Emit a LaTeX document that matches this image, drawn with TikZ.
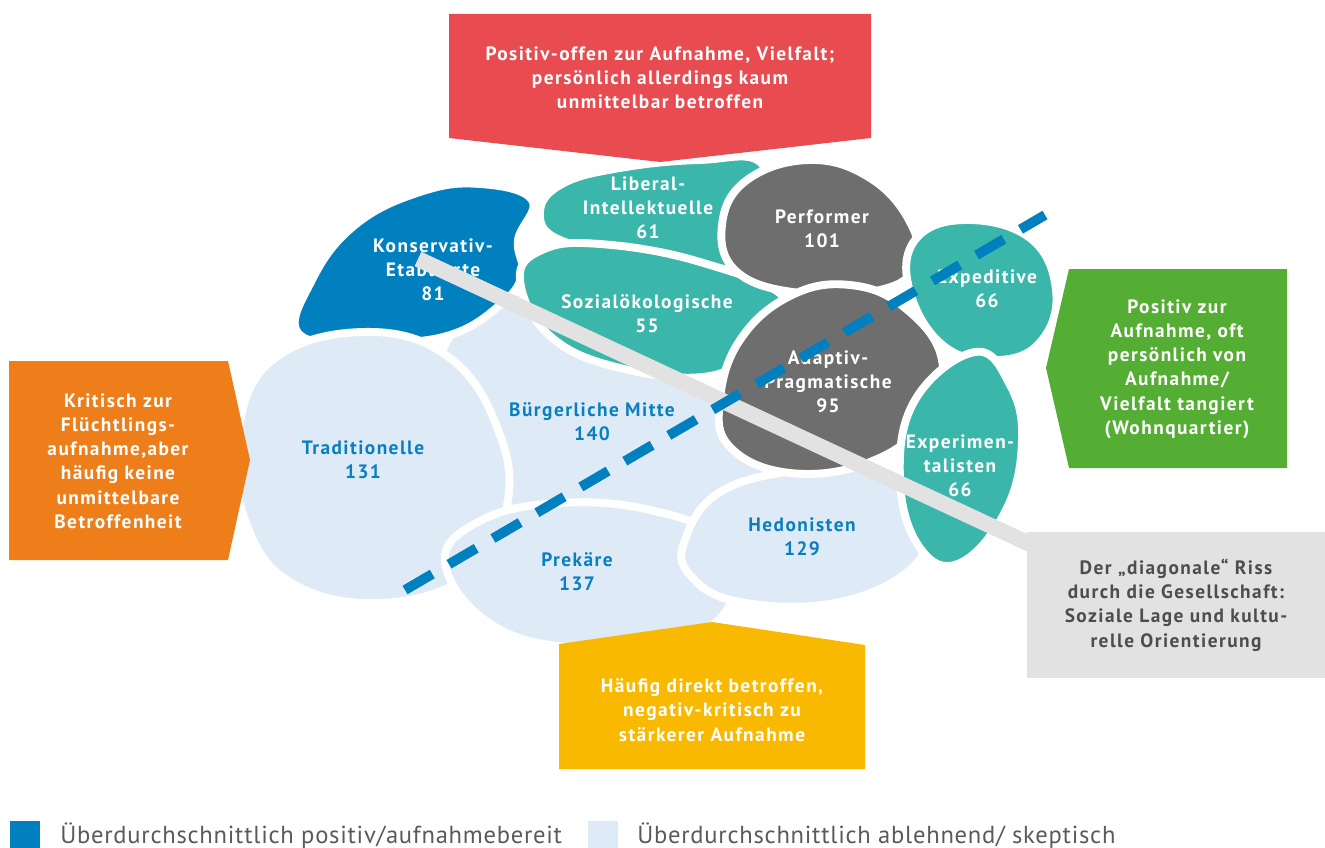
\documentclass[tikz,border=0pt]{standalone}
\usepackage{fontspec}
\setmainfont{PT Sans}
\newfontfamily\dinfont[LetterSpace=7.5]{PT Sans}
\newfontfamily\legfont[LetterSpace=3]{PT Sans}
\usepackage{tikz}
\definecolor{konsblue}{RGB}{0,128,190}
\definecolor{milteal}{RGB}{58,182,171}
\definecolor{milgray}{RGB}{110,110,110}
\definecolor{millight}{RGB}{222,234,246}
\definecolor{lblblue}{RGB}{10,127,192}
\definecolor{notered}{RGB}{232,75,80}
\definecolor{noteorange}{RGB}{238,126,26}
\definecolor{notegreen}{RGB}{84,174,52}
\definecolor{noteyellow}{RGB}{249,185,0}
\definecolor{rissgray}{RGB}{226,226,226}
\definecolor{risstext}{RGB}{77,77,77}
\definecolor{leggray}{RGB}{90,90,90}

\begin{document}
\begin{tikzpicture}[x=0.02cm, y=-0.02cm,
  blob/.style={draw=white, line width=4.5pt, line join=round},
  lbl/.style={font=\dinfont\bfseries\fontsize{11}{13.6}\selectfont, align=center,
              text=white, inner sep=0pt},
  lblb/.style={lbl, text=lblblue},
  note/.style={font=\dinfont\bfseries\fontsize{11}{13.8}\selectfont, align=center,
               text=white, inner sep=0pt},
  legtext/.style={font=\legfont\fontsize{14}{16}\selectfont, text=leggray,
                  anchor=base west, inner sep=0pt}]
\useasboundingbox (0,0) rectangle (1325,848);

% milieus, back to front
\path[blob, fill=millight] plot[smooth cycle, tension=0.7] coordinates
  {(445,345) (520,292) (600,345) (720,390) (770,470) (740,530) (600,520) (480,525) (440,450)};
\path[blob, fill=konsblue] plot[smooth cycle, tension=0.7] coordinates
  {(300,335) (312,280) (355,225) (420,192) (480,184) (532,200) (518,240) (522,275) (500,305) (450,335) (380,342)};
\path[blob, fill=millight] plot[smooth cycle, tension=0.7] coordinates
  {(237,440) (270,362) (363,332) (450,358) (500,435) (506,510) (470,575) (380,603) (290,582) (245,520)};
\path[blob, fill=millight] plot[smooth cycle, tension=0.7] coordinates
  {(445,562) (482,520) (560,503) (650,510) (720,540) (732,600) (680,640) (580,648) (492,625)};
\path[blob, fill=millight] plot[smooth cycle, tension=0.7] coordinates
  {(685,540) (720,492) (800,470) (880,470) (920,520) (915,565) (840,602) (740,602) (690,575)};
\path[blob, fill=milteal] plot[smooth cycle, tension=0.7] coordinates
  {(540,212) (562,184) (620,168) (700,160) (762,164) (762,230) (730,268) (640,255) (560,240)};
\path[blob, fill=milteal] plot[smooth cycle, tension=0.7] coordinates
  {(520,280) (542,250) (600,244) (700,262) (786,300) (752,345) (710,376) (620,368) (550,336)};
\path[blob, fill=milgray] plot[smooth cycle, tension=0.7] coordinates
  {(722,225) (747,180) (810,160) (870,178) (910,222) (916,265) (880,290) (800,293) (737,272)};
\path[blob, fill=milteal] plot[smooth cycle, tension=0.7] coordinates
  {(915,240) (965,220) (1030,238) (1056,290) (1042,340) (1000,360) (945,347) (910,292)};
\path[blob, fill=milgray] plot[smooth cycle, tension=0.7] coordinates
  {(720,400) (740,340) (790,296) (850,285) (905,308) (942,360) (926,420) (870,462) (790,473) (730,447)};
\path[blob, fill=milteal] plot[smooth cycle, tension=0.7] coordinates
  {(975,352) (1010,385) (1022,440) (1006,510) (960,563) (920,548) (900,480) (915,400)};

% milieu labels
\node[lbl] (kons) at (433,270) {Konservativ-\\Etablierte\\81};
\node[lbl] (libi) at (648,208) {Liberal-\\Intellektuelle\\61};
\node[lbl] (perf) at (822,229) {Performer\\101};
\node[lbl] (sozi) at (647,314) {Sozialökologische\\55};
\node[lbl] (adap) at (828,382) {Adaptiv-\\Pragmatische\\95};
\node[lbl] (expe) at (987,289) {Expeditive\\66};
\node[lbl] (expm) at (960,466) {Experimen-\\talisten\\66};
\node[lblb] (trad) at (363,460) {Traditionelle\\131};
\node[lblb] (buer) at (592,422) {Bürgerliche Mitte\\140};
\node[lblb] (prek) at (577,572) {Prekäre\\137};
\node[lblb] (hedo) at (802,537) {Hedonisten\\129};

% callouts
\fill[notered] (449,14) -- (871,14) -- (871,138) -- (660,162) -- (449,138) -- cycle;
\node[note] (top) at (660,78)
  {Positiv-offen zur Aufnahme, Vielfalt;\\persönlich allerdings kaum\\unmittelbar betroffen};
\fill[noteorange] (9,361) -- (228,361) -- (250,460) -- (228,560) -- (9,560) -- cycle;
\node[note] (left) at (118,461)
  {Kritisch zur\\Flüchtlings-\\aufnahme,aber\\häufig keine\\unmittelbare\\Betroffenheit};
\fill[notegreen] (1069,269) -- (1287,269) -- (1287,468) -- (1069,468) -- (1046,368) -- cycle;
\node[note] (right) at (1177,369)
  {Positiv zur\\Aufnahme, oft\\persönlich von\\Aufnahme/\\Vielfalt tangiert\\(Wohnquartier)};
\fill[noteyellow] (559,644) -- (712,622) -- (865,645) -- (865,769) -- (559,769) -- cycle;
\node[note] (bottom) at (712,710)
  {Häufig direkt betroffen,\\negativ-kritisch zu\\stärkerer Aufnahme};

% the diagonal rift
\node[note, text=risstext, fill=rissgray, minimum width=5.96cm,
      minimum height=2.94cm] (riss) at (1176,605)
  {Der „diagonale“ Riss\\durch die Gesellschaft:\\Soziale Lage und kultu-\\relle Orientierung};
\coordinate (rissstart) at (418,259);
\coordinate (rissend) at (1034,546);
\draw[rissgray, line width=9pt] (rissstart) -- (rissend);
\coordinate (dashstart) at (405,590);
\coordinate (dashend) at (1045,215);
\draw[konsblue, line width=5.6pt, dash pattern=on 18pt off 11pt] (dashstart) -- (dashend);

% legend
\fill[konsblue] (10,821) rectangle (40,848);
\node[legtext] (legpos) at (60,843) {Überdurchschnittlich positiv/aufnahmebereit};
\fill[millight] (588,821) rectangle (618,848);
\node[legtext] (legneg) at (637,843) {Überdurchschnittlich ablehnend/ skeptisch};
\end{tikzpicture}
\end{document}
